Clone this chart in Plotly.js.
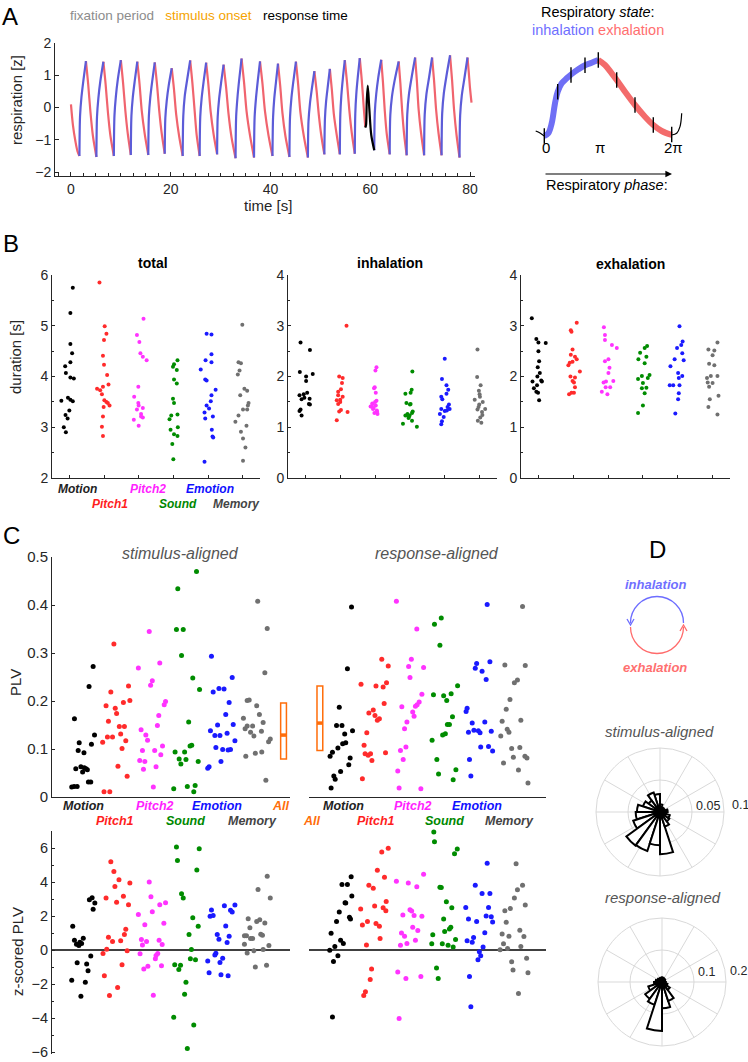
<!DOCTYPE html>
<html><head><meta charset="utf-8">
<script src="https://cdn.plot.ly/plotly-3.0.1.min.js"></script>
<style>html,body{margin:0;padding:0;background:#fff}#chart{width:748px;height:1062px}</style>
</head><body><div id="chart"></div>
<script>
// ================= DATA =================
const categories = ['Motion','Pitch1','Pitch2','Sound','Emotion','Memory'];
const catColors = ['#000000','#ff2b2b','#ff33ff','#008c00','#1a1aff','#707070'];
const catLabelColors = ['#222222','#ff1e1e','#ff22ff','#008800','#1010ff','#444444'];
const allColor = '#ff6d0a';

// Panel A: respiration trace (time [s], respiration [z])
const exhaleT = [0,0.4,0.9,1.3,1.7,null, 3.0,3.45,3.9,4.4,5.1,null, 6.5,6.95,7.4,7.9,8.6,null, 10.0,10.45,10.9,11.4,12.0,null, 13.3,13.75,14.2,14.8,15.5,null, 16.8,17.25,17.7,18.2,18.8,null, 20.2,20.65,21.1,21.7,22.4,null, 23.9,24.35,24.8,25.2,25.8,null, 27.1,27.55,28.0,28.6,29.3,null, 30.6,31.1,31.6,32.2,33.0,null, 34.2,34.7,35.2,35.9,36.7,null, 37.9,38.4,38.9,39.6,40.4,null, 41.5,41.95,42.4,43.0,43.8,null, 45.1,45.55,46.0,46.7,47.5,null, 48.8,49.25,49.7,50.2,50.8,null, 51.9,52.3,52.7,53.3,53.9,null, 54.9,55.35,55.8,56.3,56.9,null, 57.9,58.3,58.7,59.0,null, 62.2,62.55,62.9,63.3,63.9,null, 65.7,66.05,66.4,66.8,67.3,null, 69.0,69.35,69.7,70.2,70.8,null, 72.4,72.8,73.2,73.7,74.3,null, 76.0,76.4,76.8,77.3,77.9,null, 79.5,79.75,80.0,80.3];
const exhaleV = [0.1,-0.55,-1.05,-1.35,-1.50,null, 1.44,0.73,-0.13,-0.88,-1.53,null, 1.42,0.72,-0.13,-0.86,-1.50,null, 1.47,0.76,-0.09,-0.82,-1.47,null, 1.42,0.73,-0.11,-0.83,-1.47,null, 1.40,0.72,-0.10,-0.81,-1.43,null, 1.22,0.57,-0.22,-0.90,-1.50,null, 1.46,0.75,-0.11,-0.85,-1.50,null, 1.39,0.71,-0.12,-0.83,-1.45,null, 1.33,0.63,-0.21,-0.93,-1.57,null, 1.52,0.78,-0.11,-0.87,-1.55,null, 1.43,0.73,-0.12,-0.86,-1.50,null, 1.36,0.67,-0.17,-0.89,-1.53,null, 1.42,0.71,-0.15,-0.90,-1.55,null, 1.13,0.51,-0.24,-0.88,-1.45,null, 1.20,0.56,-0.20,-0.87,-1.45,null, 1.47,0.77,-0.07,-0.79,-1.43,null, 1.53,0.85,0.0,-0.60,null, 1.48,0.78,-0.07,-0.81,-1.45,null, 1.43,0.73,-0.11,-0.84,-1.48,null, 1.55,0.82,-0.06,-0.81,-1.48,null, 1.55,0.82,-0.06,-0.81,-1.48,null, 1.62,0.86,-0.06,-0.85,-1.55,null, 1.55,1.1,0.6,0.15];
const inhaleT = [1.7,1.82,2.1,2.5,3.0,null, 5.1,5.22,5.5,5.9,6.5,null, 8.6,8.72,9.0,9.4,10.0,null, 12.0,12.12,12.4,12.8,13.3,null, 15.5,15.62,15.9,16.3,16.8,null, 18.8,18.92,19.2,19.6,20.2,null, 22.4,22.52,22.8,23.3,23.9,null, 25.8,25.92,26.2,26.6,27.1,null, 29.3,29.42,29.7,30.1,30.6,null, 33.0,33.12,33.4,33.75,34.2,null, 36.7,36.82,37.1,37.45,37.9,null, 40.4,40.52,40.75,41.1,41.5,null, 43.8,43.92,44.2,44.6,45.1,null, 47.5,47.62,47.9,48.3,48.8,null, 50.8,50.92,51.15,51.5,51.9,null, 53.9,54.0,54.2,54.5,54.9,null, 56.9,57.0,57.2,57.5,57.9,null, 60.8,60.92,61.2,61.6,62.2,null, 63.9,64.02,64.35,64.9,65.7,null, 67.3,67.42,67.75,68.3,69.0,null, 70.8,70.92,71.25,71.8,72.4,null, 74.3,74.42,74.75,75.3,76.0,null, 77.9,78.02,78.35,78.9,79.5];
const inhaleV = [-1.50,-0.27,0.32,0.85,1.44,null, -1.53,-0.29,0.30,0.83,1.42,null, -1.50,-0.25,0.34,0.88,1.47,null, -1.47,-0.26,0.32,0.84,1.42,null, -1.47,-0.26,0.31,0.83,1.40,null, -1.43,-0.32,0.21,0.69,1.22,null, -1.50,-0.26,0.34,0.87,1.46,null, -1.50,-0.29,0.29,0.81,1.39,null, -1.45,-0.28,0.27,0.77,1.33,null, -1.57,-0.27,0.35,0.90,1.52,null, -1.55,-0.30,0.30,0.83,1.43,null, -1.50,-0.30,0.27,0.79,1.36,null, -1.53,-0.29,0.30,0.83,1.42,null, -1.55,-0.42,0.11,0.59,1.13,null, -1.45,-0.34,0.19,0.67,1.20,null, -1.45,-0.22,0.36,0.89,1.47,null, -1.43,-0.19,0.41,0.94,1.53,null, -1.32,-0.14,0.42,0.92,1.48,null, -1.45,-0.24,0.34,0.85,1.43,null, -1.48,-0.21,0.40,0.94,1.55,null, -1.48,-0.21,0.40,0.94,1.55,null, -1.48,-0.18,0.44,1.0,1.62,null, -1.55,-0.25,0.37,0.93,1.55];
const responseT = [59.0,59.15,59.3,59.5,59.8,60.2,60.8];
const responseV = [-0.62,-0.55,0.2,0.68,0.0,-0.85,-1.32];
const fixT  = [1.2,4.5,7.9,11.2,14.6,17.9,21.3,24.6,28.0,31.3,34.7,38.0,41.4,44.7,48.1,51.4,54.8,58.1,61.5,64.8,68.2,71.5,74.9,78.2];
const stimT = [1.8,5.1,8.5,11.8,15.2,18.5,21.9,25.2,28.6,31.9,35.3,38.6,42.0,45.3,48.7,52.0,55.4,58.7,62.1,65.4,68.8,72.1,75.5,78.8];
const respT = [2.6,6.0,9.3,12.7,16.0,19.4,22.7,26.1,29.4,32.8,36.1,39.5,42.8,46.2,49.5,52.9,56.2,59.6,62.9,66.3,69.6,73.0,76.3,79.7];

// Panel A schematic (curve position along the phase arrow, height)
const preU = [-8.6,-4.3,0], preV = [5,3,0];
const inhU = [0,4,7.4,10.7,13.4,17.4,22.4,27.4,34,40.7,47.4,54];
const inhV = [0,2.7,12.7,32.7,44.3,52.7,57.7,62,66.7,70.7,73.3,76];
const exhU = [54,60.7,67.4,72.4,80.7,90.7,100.7,109,117.4,127.4];
const exhV = [76,71,62.7,56,44.3,31,19.3,11,5,1];
const postU = [127.4,132.4,135.7,137.4], postV = [1,2.7,9.3,22.7];
const phaseTickU = [0,13.4,26.7,40.7,54,72.4,90.7,109,127.4];
const phaseTickV = [0,44.3,61,70.7,76,56,31,11,1.5];
const phaseLabels = ['0','π','2π'];
const phaseLabelU = [0,54,127.4];

// Panel B: durations [s]; jitter offsets and values per category
const totalJit = [
 [0.10,0.03,0.03,0.08,0.03,-0.12,-0.10,0.03,0.13,-0.04,0.03,0.10,-0.23,0.0,-0.11,-0.05,-0.16,-0.10],
 [-0.13,0.02,0.07,0.0,-0.03,0.0,0.09,0.13,-0.03,-0.20,-0.11,-0.06,0.01,0.07,0.11,0.16,-0.01,-0.03,-0.06,-0.03],
 [0.14,-0.05,0.02,0.05,0.12,0.23,-0.01,-0.13,-0.01,0.0,0.12,-0.05,0.07,0.12,-0.14,0.07,0.0],
 [0.12,0.02,-0.01,0.10,0.02,0.10,-0.01,0.02,0.12,-0.06,-0.11,0.13,-0.08,0.02,0.12,-0.03,0.0],
 [-0.04,0.10,0.10,-0.07,0.10,-0.21,-0.08,-0.04,0.22,0.10,0.08,-0.04,0.03,-0.10,0.14,-0.08,0.13,0.15,0.11,-0.10],
 [-0.01,-0.12,-0.05,-0.09,-0.14,0.13,0.05,-0.07,0.17,0.15,0.01,0.13,-0.12,-0.21,0.11,-0.05,0.01,0.08,0.01]];
const totalVals = [
 [5.75,5.25,4.64,4.46,4.28,4.20,4.07,3.98,3.96,3.58,3.54,3.51,3.52,3.33,3.24,3.17,3.00,2.90],
 [5.85,4.99,4.84,4.72,4.41,4.23,4.03,3.84,3.80,3.76,3.73,3.65,3.53,3.50,3.48,3.43,3.40,3.21,3.01,2.83],
 [5.14,4.82,4.68,4.46,4.39,4.32,3.80,3.60,3.48,3.43,3.38,3.35,3.26,3.19,3.15,3.21,3.03],
 [4.32,4.24,4.19,4.13,3.94,3.86,3.56,3.48,3.25,3.23,3.16,3.00,2.95,2.86,2.83,2.67,2.37],
 [4.84,4.83,4.44,4.32,4.28,4.14,3.94,3.92,3.74,3.63,3.51,3.43,3.37,3.29,3.21,3.17,2.82,2.80,2.95,2.32],
 [5.02,4.28,4.26,4.12,4.04,3.72,3.76,3.63,3.48,3.43,3.35,3.35,3.23,3.11,3.03,2.91,2.78,2.60,2.34]];
const inhalJit = [
 [-0.14,0.13,-0.16,0.21,0.02,0.02,0.05,-0.05,-0.17,-0.11,-0.03,0.12,0.10,0.13,-0.14,-0.17,-0.11],
 [0.18,-0.03,0.07,0.05,0.02,-0.06,0.07,0.0,-0.10,-0.06,0.02,-0.03,0.21,-0.10,-0.06,0.0],
 [0.04,0.01,-0.01,-0.03,0.02,0.04,-0.07,0.02,-0.13,-0.06,0.05,-0.02,0.07,-0.10,0.0,-0.04,0.06,-0.08],
 [0.07,-0.13,0.05,0.02,-0.10,0.0,0.08,-0.13,-0.01,-0.04,0.06,-0.20,0.20,-0.07,0.02,0.06,-0.03],
 [0.0,-0.08,0.05,0.10,-0.10,-0.07,0.05,0.12,-0.10,0.0,0.06,-0.14,-0.03,-0.10,0.14,-0.08,0.08],
 [-0.06,-0.07,0.03,-0.02,0.01,-0.14,0.09,-0.01,-0.06,0.16,0.07,-0.05,0.05,0.02,0.0,-0.03,0.08]];
const inhalVals = [
 [2.67,2.52,2.09,2.05,2.0,1.91,1.68,1.65,1.63,1.55,1.58,1.56,1.46,1.45,1.35,1.32,1.23],
 [3.0,2.0,1.97,1.87,1.75,1.70,1.60,1.54,1.53,1.46,1.34,1.31,1.30,1.14,1.63,1.50],
 [2.18,2.12,1.79,1.77,1.68,1.52,1.46,1.43,1.41,1.36,1.33,1.28,1.26,1.41,1.50,1.38,1.30,1.47],
 [2.10,1.66,1.74,1.68,1.48,1.45,1.31,1.23,1.23,1.18,1.13,1.07,1.01,1.26,1.46,1.28,1.20],
 [2.35,1.95,1.83,1.74,1.60,1.55,1.66,1.45,1.36,1.32,1.33,1.26,1.20,1.06,1.36,1.12,1.40],
 [2.53,1.99,1.83,1.72,1.60,1.54,1.50,1.45,1.35,1.36,1.30,1.13,1.09,1.19,1.65,1.40,1.24]];
const exhalJit = [
 [-0.19,-0.06,0.0,0.21,0.0,0.02,0.04,-0.03,-0.17,0.10,-0.04,-0.13,-0.06,-0.01,0.02,0.08,-0.02],
 [0.10,-0.07,-0.05,-0.02,-0.07,0.05,0.10,-0.10,-0.02,-0.14,0.19,-0.08,0.05,-0.02,0.02,0.05,-0.05,0.02,-0.12],
 [-0.12,-0.09,-0.09,0.11,0.25,0.01,-0.09,0.04,0.01,-0.06,0.15,-0.13,0.06,-0.07,-0.18,-0.02],
 [0.12,0.05,-0.08,0.10,-0.13,0.05,-0.03,0.19,-0.14,0.14,0.0,-0.03,0.10,0.05,0.0,-0.14],
 [0.05,0.14,0.10,-0.02,0.13,-0.09,0.17,-0.21,0.01,0.13,0.03,-0.23,-0.13,0.05,0.03,0.01,-0.07],
 [0.14,-0.12,0.05,0.0,-0.10,0.05,-0.05,-0.16,0.14,-0.14,0.0,-0.10,-0.08,0.17,-0.12,0.14]];
const exhalVals = [
 [3.15,2.74,2.67,2.66,2.50,2.30,2.07,2.0,1.90,1.90,1.83,1.77,1.70,1.68,1.53,1.92,2.18],
 [3.06,2.91,2.88,2.53,2.43,2.39,2.34,2.27,2.29,2.22,2.10,2.0,1.98,1.91,1.88,1.79,1.68,1.68,1.65],
 [2.97,2.82,2.72,2.62,2.56,2.34,2.30,2.17,2.07,1.90,1.91,1.88,1.79,1.79,1.70,1.65],
 [2.60,2.56,2.47,2.39,2.34,2.26,2.01,2.03,1.95,1.97,1.87,1.77,1.78,1.67,1.43,1.28],
 [2.99,2.69,2.62,2.56,2.46,2.34,2.32,2.20,2.07,2.01,1.97,1.83,1.83,1.83,1.67,1.55,1.27],
 [2.67,2.53,2.51,2.42,2.25,2.22,2.01,1.97,2.01,1.88,1.87,1.80,1.55,1.62,1.40,1.25]];

// Panel C: PLV, stimulus-aligned
const plvStimJit = [
 [-0.25,0.30,0.18,0.34,-0.11,0.25,-0.14,0.03,-0.21,-0.06,0.04,0.09,0.13,-0.01,0.16,0.23,-0.33,-0.26,-0.17],
 [-0.09,-0.18,-0.32,-0.05,0.34,0.38,0.19,-0.01,-0.25,-0.28,-0.13,-0.42,0.07,0.22,0.11,0.26,0.15,0.03,0.30,-0.38,-0.21],
 [-0.05,0.26,-0.37,0.04,-0.01,0.43,0.39,0.23,0.19,-0.29,-0.15,-0.10,0.34,-0.25,0.11,0.29,-0.33,-0.18,0.15,-0.22,0.07],
 [0.34,-0.21,-0.25,-0.05,-0.10,0.23,0.43,0.11,0.20,0.15,-0.29,-0.01,-0.17,0.03,-0.12,0.39,0.07,0.30,-0.33,0.26],
 [-0.22,0.39,-0.17,0.0,0.15,0.30,0.20,-0.04,0.42,-0.25,-0.12,0.03,0.24,0.47,-0.09,0.11,0.27,0.34,0.06,-0.29,-0.33],
 [0.14,0.42,0.35,-0.11,-0.17,0.11,0.19,-0.28,-0.23,-0.17,-0.01,-0.07,0.25,0.03,0.30,0.51,0.46,-0.21,0.07,0.26,0.38]];
const plvStimVals = [
 [0.163,0.272,0.230,0.129,0.113,0.110,0.097,0.092,0.059,0.063,0.061,0.059,0.057,0.052,0.031,0.031,0.021,0.022,0.022],
 [0.319,0.219,0.190,0.185,0.231,0.201,0.197,0.174,0.158,0.125,0.125,0.114,0.147,0.147,0.131,0.117,0.101,0.064,0.043,0.011,0.011],
 [0.345,0.279,0.269,0.242,0.233,0.199,0.192,0.170,0.149,0.140,0.129,0.118,0.106,0.097,0.097,0.088,0.076,0.074,0.063,0.058,0.021],
 [0.470,0.434,0.349,0.349,0.295,0.248,0.224,0.156,0.108,0.106,0.094,0.094,0.079,0.078,0.069,0.074,0.022,0.024,0.017,0.011],
 [0.293,0.249,0.219,0.226,0.225,0.197,0.172,0.150,0.151,0.138,0.128,0.128,0.133,0.117,0.103,0.099,0.098,0.099,0.074,0.063,0.060],
 [0.408,0.351,0.259,0.202,0.201,0.190,0.172,0.164,0.142,0.148,0.148,0.135,0.137,0.127,0.155,0.121,0.115,0.085,0.091,0.094,0.035]];
const allStimBox = [0.079,0.129,0.196];   // q1, median, q3
// Panel C: PLV, response-aligned
const plvRespJit = [
 [0.28,0.16,-0.08,-0.16,0.0,0.31,0.08,0.02,0.11,-0.12,-0.28,-0.35,0.24,0.20,-0.04,-0.24,-0.20,-0.32],
 [0.17,0.36,-0.44,0.0,0.21,0.31,0.24,-0.21,-0.08,-0.03,0.10,0.04,-0.27,-0.35,-0.32,-0.23,-0.16,0.28,-0.12,-0.40],
 [-0.40,0.20,0.04,-0.04,0.40,0.0,0.35,0.27,0.21,0.16,-0.24,0.08,0.12,-0.09,-0.16,-0.12,-0.28,-0.20,-0.36,-0.32,0.32],
 [-0.08,-0.28,-0.12,0.40,0.21,-0.31,-0.01,0.08,0.25,0.10,0.16,0.04,-0.04,-0.35,-0.21,0.35,-0.16,0.27],
 [0.27,-0.04,0.35,-0.08,0.12,0.24,-0.32,-0.35,-0.17,0.20,-0.28,-0.12,0.01,0.06,0.39,0.08,0.31,0.43,-0.25,-0.21],
 [0.31,-0.21,0.39,0.16,0.07,-0.06,-0.17,-0.29,0.26,-0.14,-0.09,-0.33,-0.01,0.23,0.04,0.38,0.44,-0.25,0.19,0.47]];
const plvRespVals = [
 [0.396,0.267,0.187,0.149,0.149,0.138,0.131,0.111,0.113,0.102,0.093,0.085,0.081,0.067,0.053,0.044,0.037,0.019],
 [0.287,0.273,0.235,0.231,0.229,0.238,0.195,0.175,0.181,0.170,0.163,0.160,0.134,0.108,0.090,0.087,0.090,0.092,0.076,0.038],
 [0.408,0.350,0.287,0.272,0.270,0.249,0.214,0.198,0.192,0.189,0.188,0.177,0.168,0.156,0.142,0.104,0.097,0.078,0.054,0.019,0.017],
 [0.373,0.360,0.316,0.232,0.215,0.213,0.211,0.201,0.167,0.151,0.151,0.132,0.129,0.118,0.078,0.057,0.048,0.036],
 [0.401,0.278,0.282,0.268,0.262,0.245,0.185,0.178,0.154,0.156,0.135,0.139,0.138,0.134,0.137,0.104,0.105,0.096,0.078,0.044],
 [0.397,0.275,0.274,0.244,0.238,0.203,0.183,0.158,0.160,0.141,0.135,0.127,0.101,0.103,0.083,0.085,0.081,0.071,0.056,0.029]];
const allRespBox = [0.097,0.154,0.231];
// Panel C: z-scored PLV
const zStimJit = [
 [0.27,0.19,0.35,0.30,-0.30,-0.25,0.01,-0.09,-0.04,-0.19,-0.12,0.23,-0.17,0.11,0.15,-0.33,0.07,-0.06],
 [-0.18,-0.09,0.06,-0.06,0.38,-0.32,0.19,-0.01,0.34,0.26,0.22,-0.25,0.11,-0.13,-0.30,0.30,-0.41,0.15,-0.37,0.02,-0.22],
 [-0.05,0.0,0.43,0.26,0.04,-0.37,0.38,-0.18,-0.28,0.24,-0.13,-0.25,0.33,-0.32,0.20,0.15,0.13,-0.09,0.31,-0.21,0.07],
 [-0.25,0.42,-0.22,0.35,-0.10,-0.05,0.23,0.39,0.12,0.19,0.16,0.31,-0.30,-0.13,-0.18,0.03,-0.01,-0.33,0.26,0.07],
 [-0.22,0.16,0.47,0.34,0.39,-0.26,-0.17,0.20,-0.05,0.30,0.0,0.24,-0.09,-0.12,0.11,-0.33,0.03,-0.29,0.06,0.27],
 [0.42,0.15,0.51,-0.14,0.20,0.11,0.35,-0.09,-0.25,-0.19,0.23,0.28,-0.01,-0.07,-0.25,0.47,0.03,0.30,-0.17,0.07,0.40]];
const zStimVals = [
 [3.08,2.96,2.77,2.40,1.40,0.58,0.70,0.47,0.39,0.35,0.27,-0.35,-0.74,-0.82,-1.21,-1.77,-1.89,-2.71],
 [5.20,4.62,4.13,3.74,3.95,3.06,3.16,2.81,2.67,1.23,0.92,0.76,0.55,0.51,0.06,-0.04,-0.19,-0.86,-1.50,-2.20,-2.67],
 [4.01,3.14,2.79,2.67,2.26,2.10,1.58,1.50,0.62,0.58,0.51,0.31,0.33,-0.21,-0.19,-0.31,-0.51,-0.94,-0.92,-1.11,-2.65],
 [6.06,5.96,5.26,4.71,3.31,3.06,1.91,1.40,0.92,0.04,-0.51,-0.56,-0.86,-0.88,-1.13,-1.89,-2.59,-3.94,-4.40,-5.77],
 [2.36,2.61,2.65,2.34,2.24,1.99,2.03,1.42,0.92,0.82,0.64,0.45,-0.18,-0.29,-0.47,-0.64,-0.72,-1.32,-1.44,-1.50],
 [4.34,3.57,3.06,1.85,1.79,1.68,1.60,1.32,0.84,0.84,0.94,0.88,0.68,0.68,0.35,0.27,-0.04,0.04,-0.16,-0.99,-0.88]];
const zRespJit = [
 [0.27,0.0,0.16,0.29,0.09,0.11,-0.08,0.22,0.25,-0.16,-0.32,-0.04,0.04,-0.21,-0.36,-0.12,-0.25,-0.28],
 [0.36,0.17,0.04,0.25,-0.21,-0.08,0.30,-0.04,0.21,-0.45,0.29,-0.25,-0.40,0.0,0.10,0.12,-0.28,-0.13,-0.17,-0.31,-0.36],
 [0.40,-0.40,-0.05,0.20,0.0,0.05,-0.21,0.12,0.35,0.08,0.23,-0.25,-0.16,0.16,-0.09,-0.28,-0.36,-0.12,0.32,-0.32],
 [-0.30,-0.28,0.39,0.31,-0.12,-0.08,0.07,0.23,-0.01,0.20,0.16,0.02,-0.33,0.34,-0.36,-0.05,0.12,0.27,-0.22,-0.17],
 [0.27,-0.08,0.12,0.35,-0.36,0.31,0.24,0.39,-0.28,-0.04,0.43,0.20,-0.32,-0.13,-0.17,0.15,0.04,0.08,0.0,-0.25,-0.21],
 [0.12,0.31,0.16,0.07,0.39,-0.05,-0.21,-0.17,0.23,-0.29,-0.09,0.35,-0.25,-0.35,-0.13,0.26,-0.01,0.43,0.03,0.47,0.19]];
const zRespVals = [
 [4.31,3.86,3.86,3.18,2.79,2.77,2.24,1.93,1.83,1.68,0.99,0.58,0.39,0.21,0.0,-0.33,-0.66,-3.92],
 [5.98,5.77,4.70,4.29,3.82,3.64,2.86,2.59,2.49,2.42,2.32,1.69,1.48,1.56,1.40,0.68,0.31,-1.11,-1.73,-2.45,-2.67],
 [4.46,4.05,3.94,3.72,2.38,2.30,2.07,2.03,1.99,1.34,1.15,1.01,0.82,0.58,0.39,0.29,-1.29,-1.66,-1.54,-4.01],
 [6.94,6.37,5.94,5.67,3.70,3.68,2.84,2.49,1.83,1.34,1.25,1.09,0.90,0.62,0.37,0.37,0.29,0.18,-1.05,-1.66],
 [5.10,3.82,3.33,3.33,2.51,2.51,2.01,1.97,1.83,1.69,1.66,1.03,0.56,0.74,0.47,0.19,-0.10,-0.33,-0.56,-1.54,-3.33],
 [5.08,3.82,3.55,3.06,2.65,2.45,2.32,1.64,1.17,0.95,0.82,0.80,0.37,0.02,0.10,0.21,-0.68,-0.47,-1.17,-1.32,-2.55]];

// Panel D: rose histograms (bin centre [deg], probability)
const roseTheta = [9,27,45,63,81,99,117,135,153,171,189,207,225,243,261,279,297,315,333,351];
const roseStim = [0.012,0.008,0.007,0.008,0.012,0.028,0.032,0.022,0.028,0.036,0.038,0.044,0.065,0.064,0.052,0.066,0.024,0.018,0.016,0.010];
const roseResp = [0.010,0.010,0.012,0.012,0.014,0.014,0.012,0.014,0.016,0.020,0.025,0.045,0.065,0.075,0.153,0.082,0.062,0.030,0.018,0.012];
const roseStimTicks = ['0.05','0.1'];
const roseRespTicks = ['0.1','0.2'];

// ================= LAYOUT HELPERS =================
const W = 748, H = 1062;
const FONT = 'Liberation Sans, Arial, Helvetica, sans-serif';
const TXT = '#262626';
const dx = (a,b) => [a/W, b/W];
const dy = (top,bot) => [1-bot/H, 1-top/H];
function T(text, x, y, size, color, extra){
  return Object.assign({text, x:x/W, y:1-y/H, xref:'paper', yref:'paper', showarrow:false,
    xanchor:'center', yanchor:'middle', font:{family:FONT, size:size||13, color:color||TXT}}, extra||{});
}
const baseAx = {showline:true, linecolor:TXT, linewidth:1, ticks:'inside', ticklen:3, tickcolor:TXT,
  showgrid:false, zeroline:false, fixedrange:true, ticklabeloverflow:'allow', tickfont:{family:FONT, size:14, color:TXT}};
const hiddenAx = {visible:false, fixedrange:true};

const traces = [];
// ---- Panel A ----
traces.push({type:'scatter', mode:'lines', x:exhaleT, y:exhaleV, xaxis:'x', yaxis:'y',
  line:{color:'#f0646e', width:2.2, shape:'spline', smoothing:0.8}, connectgaps:false, hoverinfo:'skip'});
traces.push({type:'scatter', mode:'lines', x:inhaleT, y:inhaleV, xaxis:'x', yaxis:'y',
  line:{color:'#5c5cd8', width:2.2, shape:'spline', smoothing:0.8}, connectgaps:false, hoverinfo:'skip'});
traces.push({type:'scatter', mode:'lines', x:responseT, y:responseV, xaxis:'x', yaxis:'y',
  line:{color:'#000', width:2.2, shape:'spline', smoothing:0.8}, hoverinfo:'skip'});
[[fixT,2.16,'#8c8c8c'],[stimT,2.27,'#f5a300'],[respT,2.37,'#000000']].forEach(([t,lev,c])=>{
  traces.push({type:'scatter', mode:'markers', x:t, y:t.map(()=>lev), xaxis:'x', yaxis:'y', cliponaxis:false,
    marker:{size:3, color:c}, hoverinfo:'skip'});
});
// schematic
traces.push({type:'scatter', mode:'lines', x:preU, y:preV, xaxis:'x2', yaxis:'y2', line:{color:'#000', width:1.2, shape:'spline'}, hoverinfo:'skip'});
traces.push({type:'scatter', mode:'lines', x:postU, y:postV, xaxis:'x2', yaxis:'y2', line:{color:'#000', width:1.2, shape:'spline'}, hoverinfo:'skip'});
traces.push({type:'scatter', mode:'lines', x:inhU, y:inhV, xaxis:'x2', yaxis:'y2', line:{color:'#6f6ff5', width:6, shape:'spline'}, hoverinfo:'skip'});
traces.push({type:'scatter', mode:'lines', x:exhU, y:exhV, xaxis:'x2', yaxis:'y2', line:{color:'#f36b6b', width:6, shape:'spline'}, hoverinfo:'skip'});
traces.push({type:'scatter', mode:'markers', x:phaseTickU, y:phaseTickV, xaxis:'x2', yaxis:'y2', cliponaxis:false,
  marker:{symbol:'line-ns', size:11, line:{color:'#000', width:1.4}}, hoverinfo:'skip'});

// ---- Panel B & C clusters ----
function clusters(vals, jit, xa, ya, size){
  vals.forEach((v,k)=>{
    traces.push({type:'scatter', mode:'markers', x:jit[k].map(j=>k+1+j), y:v, xaxis:xa, yaxis:ya,
      cliponaxis:false, marker:{size:size, color:catColors[k]}, hoverinfo:'skip'});
  });
}
clusters(totalVals, totalJit, 'x3','y3', 4);
clusters(inhalVals, inhalJit, 'x4','y4', 4);
clusters(exhalVals, exhalJit, 'x5','y5', 4);
clusters(plvStimVals, plvStimJit, 'x6','y6', 5);
clusters(plvRespVals, plvRespJit, 'x7','y7', 5);
clusters(zStimVals, zStimJit, 'x8','y8', 5);
clusters(zRespVals, zRespJit, 'x9','y9', 5);

const allStimPos = 6.9, allRespPos = 0.35, boxW = 0.17;
function allBox(b, pos, xa, ya){
  traces.push({type:'box', x:[pos], q1:[b[0]], median:[b[1]], q3:[b[2]], lowerfence:[b[0]], upperfence:[b[2]],
    width:boxW, fillcolor:'white', line:{color:allColor, width:1.5}, boxpoints:false, xaxis:xa, yaxis:ya, hoverinfo:'skip'});
  traces.push({type:'scatter', mode:'lines', x:[pos-boxW/2, pos+boxW/2], y:[b[1], b[1]], xaxis:xa, yaxis:ya,
    line:{color:allColor, width:3.5}, hoverinfo:'skip'});
}
allBox(allStimBox, allStimPos, 'x6','y6');
allBox(allRespBox, allRespPos, 'x7','y7');

// ---- Panel D roses ----
traces.push({type:'barpolar', r:roseStim, theta:roseTheta, width:18, subplot:'polar',
  marker:{color:'rgba(255,255,255,1)', line:{color:'#000', width:2}}, hoverinfo:'skip'});
traces.push({type:'barpolar', r:roseResp, theta:roseTheta, width:18, subplot:'polar2',
  marker:{color:'rgba(255,255,255,1)', line:{color:'#000', width:2}}, hoverinfo:'skip'});

// ================= AXES =================
const layout = {
  width:W, height:H, margin:{l:0,r:0,t:0,b:0}, showlegend:false,
  paper_bgcolor:'#fff', plot_bgcolor:'rgba(0,0,0,0)', font:{family:FONT, color:TXT},
  xaxis: Object.assign({}, baseAx, {domain:dx(55,475), range:[-3.2,81], anchor:'y', tickmode:'linear', tick0:0, dtick:20,
     ticklen:4, minor:{tick0:0, dtick:2.5, ticks:'inside', ticklen:3, tickcolor:TXT}}),
  yaxis: Object.assign({}, baseAx, {domain:dy(43,176), range:[-2.12,2.0], anchor:'x', tickmode:'linear', tick0:0, dtick:1,
     ticklen:4}),
  xaxis2: Object.assign({}, hiddenAx, {domain:dx(535,685), range:[-9.3,140.7], anchor:'y2'}),
  yaxis2: Object.assign({}, hiddenAx, {domain:dy(50,145), range:[-9,86], anchor:'x2'}),
};
function bX(a,b){ return Object.assign({}, baseAx, {domain:dx(a,b), range:[0.5,6.5], tickvals:[1,2,3,4,5,6], showticklabels:false}); }
function bY(r){ return Object.assign({}, baseAx, {domain:dy(275,478), range:r, tickmode:'linear', tick0:0, dtick:1,
  minor:{dtick:0.5, ticks:'inside', ticklen:2, tickcolor:TXT}}); }
layout.xaxis3 = Object.assign(bX(52,260), {anchor:'y3'}); layout.yaxis3 = Object.assign(bY([2,6]), {anchor:'x3'});
layout.xaxis4 = Object.assign(bX(288,497), {anchor:'y4'}); layout.yaxis4 = Object.assign(bY([0,4]), {anchor:'x4'});
layout.xaxis5 = Object.assign(bX(521,730), {anchor:'y5'}); layout.yaxis5 = Object.assign(bY([0,4]), {anchor:'x5'});

const cXL = [0.09,7.09], cXR = [0.03,7.0];
const zTop = 831, zBot = 1054;
layout.xaxis6 = Object.assign({}, baseAx, {domain:dx(52,290), range:cXL, ticks:'', showticklabels:false, anchor:'y6'});
layout.yaxis6 = Object.assign({}, baseAx, {domain:dy(557,797), range:[0,0.5], tickmode:'linear', tick0:0, dtick:0.1, anchor:'x6', tickfont:{family:FONT,size:15,color:TXT}});
layout.xaxis7 = Object.assign({}, baseAx, {domain:dx(309,546), range:cXR, ticks:'', showticklabels:false, anchor:'y7'});
layout.yaxis7 = Object.assign({}, hiddenAx, {domain:dy(557,797), range:[0,0.5], anchor:'x7'});
layout.xaxis8 = Object.assign({}, hiddenAx, {domain:dx(52,290), range:cXL, anchor:'y8'});
layout.yaxis8 = Object.assign({}, baseAx, {domain:dy(zTop,zBot), range:[-6.1,7.0], tickvals:[-6,-4,-2,0,2,4,6], anchor:'x8',
   zeroline:true, zerolinecolor:'#404040', zerolinewidth:1.5, tickfont:{family:FONT,size:14.5,color:TXT},
   minor:{tickvals:[-5,-3,-1,1,3,5,7], ticks:'inside', ticklen:2, tickcolor:TXT}});
layout.xaxis9 = Object.assign({}, hiddenAx, {domain:dx(309,546), range:cXR, anchor:'y9'});
layout.yaxis9 = {domain:dy(zTop,zBot), range:[-6.1,7.0], anchor:'x9', showline:false, showticklabels:false, ticks:'',
   showgrid:false, zeroline:true, zerolinecolor:'#404040', zerolinewidth:1.5, fixedrange:true};

function polarCfg(x0,x1,top,bot,rmax,tv){
  return {domain:{x:dx(x0,x1), y:dy(top,bot)}, bgcolor:'#fff',
    angularaxis:{rotation:0, direction:'counterclockwise', tickmode:'linear', tick0:0, dtick:30, showticklabels:false, ticks:'',
      gridcolor:'#d9d9d9', linecolor:'#d9d9d9', linewidth:1, showline:true},
    radialaxis:{range:[0,rmax], tickvals:tv, showticklabels:false, showline:false, ticks:'', gridcolor:'#d9d9d9', angle:8}};
}
layout.polar = polarCfg(596,724,748,876,0.1,[0.05,0.1]);
layout.polar2 = polarCfg(598,726,918,1046,0.2,[0.1,0.2]);

// ================= TEXT =================
const ann = [];
const sp = '\u00A0\u00A0\u00A0';
ann.push(T('A',10,16,24,'#000'), T('B',11,243,24,'#000'), T('C',11,535,24,'#000'), T('D',657,549,24,'#000'));
ann.push(T('<span style="color:#8c8c8c">fixation period</span>'+sp+'<span style="color:#f5a300">stimulus onset</span>'+sp+'<span style="color:#000">response time</span>',
  68,15,13.5,'#000',{xanchor:'left'}));
ann.push(T('respiration [z]',17,100,15,TXT,{textangle:-90}));
ann.push(T('time [s]',268,205,15,TXT));
ann.push(T('Respiratory <i>state</i>:',598,12,14.5,'#000'));
ann.push(T('<span style="color:#6f6fff">inhalation</span> <span style="color:#ff6f6f">exhalation</span>',598,30,14.5,'#000'));
phaseLabels.forEach((s,i)=>ann.push({text:s, x:phaseLabelU[i], xref:'x2', y:1-147/H, yref:'paper', showarrow:false,
  xanchor:'center', yanchor:'middle', xshift:2, font:{family:FONT,size:15,color:'#000'}}));
ann.push({text:'', x:672/W, y:1-174/H, xref:'paper', yref:'paper', showarrow:true, ax:-128, ay:0,
  arrowhead:2, arrowsize:1.1, arrowwidth:1.2, arrowcolor:'#000'});
ann.push(T('Respiratory <i>phase</i>:',607,185,14.5,'#000'));
// B
ann.push(T('<b>total</b>',153,263,14,'#000'), T('<b>inhalation</b>',390,263,14,'#000'), T('<b>exhalation</b>',630,264,14,'#000'));
ann.push(T('duration [s]',15,357,15,TXT,{textangle:-90}));
const bLabX = [77,110,148,178,210,236];
categories.forEach((c,k)=>ann.push(T('<b><i>'+c+'</i></b>', bLabX[k], k%2===0?489:504, 12, catLabelColors[k])));
// C
ann.push(T('<i>stimulus-aligned</i>',180,553,16,'#555'), T('<i>response-aligned</i>',437,553,16,'#555'));
ann.push(T('PLV',15,683,15,TXT,{textangle:-90}), T('z-scored PLV',17,952,15,TXT,{textangle:-90}));
const cLabL = [83,115,155,185,217,252], cLabR = [343,376,413,444,477,510];
categories.forEach((c,k)=>{
  ann.push(T('<b><i>'+c+'</i></b>', cLabL[k], k%2===0?806:821, 12.5, catLabelColors[k]));
  ann.push(T('<b><i>'+c+'</i></b>', cLabR[k], k%2===0?806:821, 12.5, catLabelColors[k]));
});
ann.push(T('<b><i>All</i></b>',281,806,12.5,allColor), T('<b><i>All</i></b>',312,821,12.5,allColor));
// D
ann.push(T('<b><i>inhalation</i></b>',655,584,13,'#7070ff'), T('<b><i>exhalation</i></b>',655,667,13,'#ff7070'));
ann.push(T('<i>stimulus-aligned</i>',659,731,15,'#555'), T('<i>response-aligned</i>',663,897,15,'#555'));
// radial scale labels of the rose plots, placed just outside each grid circle
ann.push(T(roseStimTicks[0],708,806,12.5,TXT), T(roseStimTicks[1],740,805,12.5,TXT));
ann.push(T(roseRespTicks[0],706,972,12.5,TXT), T(roseRespTicks[1],738,971,12.5,TXT));
layout.annotations = ann;

// cycle arrows (panel D)
const P = (x,y) => (x/W).toFixed(5)+','+(1-y/H).toFixed(5);
layout.shapes = [
  {type:'path', xref:'paper', yref:'paper', line:{color:'#6d6dff', width:1.3},
   path:'M'+P(683.5,623)+' C'+P(683.5,608.4)+' '+P(671.6,596.5)+' '+P(657,596.5)+' C'+P(642.4,596.5)+' '+P(630.5,608.4)+' '+P(630.5,623)},
  {type:'path', xref:'paper', yref:'paper', line:{color:'#6d6dff', width:1.3},
   path:'M'+P(627,619)+' L'+P(630.5,625)+' L'+P(634,619)},
  {type:'path', xref:'paper', yref:'paper', line:{color:'#ff6b6b', width:1.3},
   path:'M'+P(630.5,627)+' C'+P(630.5,641.6)+' '+P(642.4,653.5)+' '+P(657,653.5)+' C'+P(671.6,653.5)+' '+P(683.5,641.6)+' '+P(683.5,627)},
  {type:'path', xref:'paper', yref:'paper', line:{color:'#ff6b6b', width:1.3},
   path:'M'+P(680,631)+' L'+P(683.5,625)+' L'+P(687,631)}
];

Plotly.newPlot('chart', traces, layout, {displayModeBar:false, staticPlot:true});
</script></body></html>
